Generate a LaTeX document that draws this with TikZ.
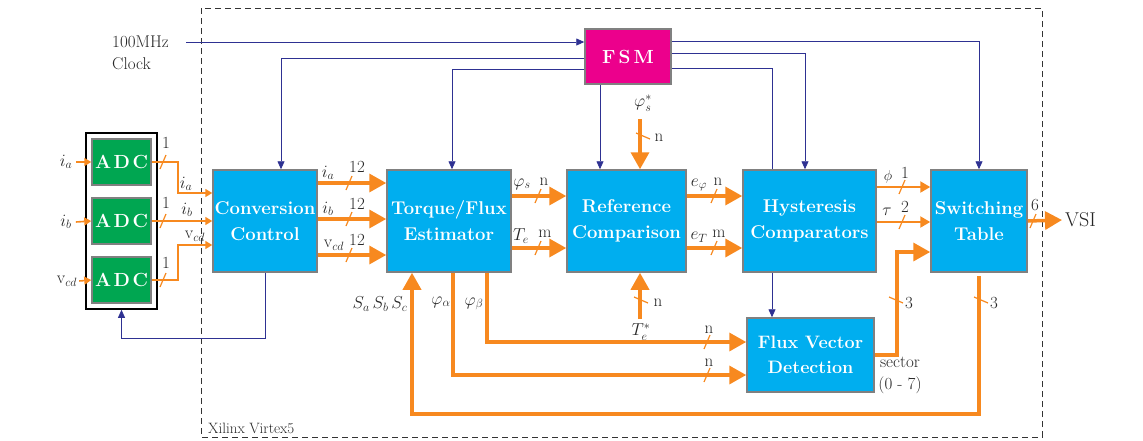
\documentclass[tikz,border=0pt]{standalone}
\usetikzlibrary{arrows.meta,backgrounds}

\definecolor{blkblue}{RGB}{0,174,239}
\definecolor{adcgreen}{RGB}{0,166,81}
\definecolor{fsmpink}{RGB}{236,0,140}
\definecolor{busorange}{RGB}{247,137,31}
\definecolor{ctlnavy}{RGB}{46,49,146}

\tikzset{
  blk/.style={draw=gray, line width=1.5pt, fill=blkblue, text=white, align=center, inner sep=0pt,
    font=\fontsize{18.5}{26}\selectfont\bfseries},
  adc/.style={draw=gray, line width=1.5pt, fill=adcgreen, text=white, inner sep=0pt,
    minimum width=59pt, minimum height=46pt, font=\fontsize{19}{20}\selectfont\bfseries},
  ctl/.style={draw=ctlnavy, line width=0.8pt, -{Triangle[length=8pt,width=7pt]}},
  bus/.style={draw=busorange, line width=3.5pt, -{Triangle[length=17pt,width=18pt]}},
  midbus/.style={draw=busorange, line width=2.2pt, -{Triangle[length=10pt,width=11pt]}},
  wire/.style={draw=busorange, line width=1.6pt, -{Triangle[length=7pt,width=8pt]}},
  bmark/.style={draw=busorange, line width=1.2pt},
  lbl/.style={text=black!85, inner sep=0pt, font=\fontsize{17}{19}\selectfont}
}
\newcommand{\busmark}[1]{\draw[bmark] #1 ++(-3,7) -- ++(6,-14);}
\newcommand{\vbusmark}[1]{\draw[bmark] #1 ++(-7,-3) -- ++(14,6);}

\begin{document}
\begin{tikzpicture}[x=1pt,y=-1pt]
\useasboundingbox (0,0) rectangle (1143,440);
\draw[dash pattern=on 6pt off 4pt, black!80, line width=0.6pt] (201,8) rectangle (1042,437);
\node[lbl, anchor=west, font=\fontsize{15}{17}\selectfont] (xil) at (208,428) {Xilinx Virtex5};

% ADC stage
\node[draw=black, line width=1.6pt, minimum width=71pt, minimum height=176pt, inner sep=0pt] (adcbox) at (121.5,221) {};
\node[adc] (adc1) at (121.5,162) {A\kern2.5ptD\kern2.5ptC};
\node[adc] (adc2) at (121.5,221) {A\kern2.5ptD\kern2.5ptC};
\node[adc] (adc3) at (121.5,280) {A\kern2.5ptD\kern2.5ptC};

% blocks
\node[blk, minimum width=104pt, minimum height=102pt] (conv) at (265,221) {Conversion\\Control};
\node[blk, minimum width=124pt, minimum height=102pt] (tfe) at (449,221) {Torque/Flux\\Estimator};
\node[blk, minimum width=119pt, minimum height=102pt] (refc) at (626.5,221) {Reference\\Comparison};
\node[blk, minimum width=133pt, minimum height=102pt] (hyst) at (809.5,221) {Hysteresis\\Comparators};
\node[blk, minimum width=96pt, minimum height=102pt] (swt) at (979,221) {Switching\\Table};
\node[blk, minimum width=127pt, minimum height=74pt, font=\fontsize{18}{25}\selectfont\bfseries] (fvd) at (810.5,355) {Flux Vector\\Detection};
\node[blk, fill=fsmpink, minimum width=86pt, minimum height=55pt, font=\fontsize{19}{20}\selectfont\bfseries] (fsm) at (628,56.5) {F\kern3ptS\kern3ptM};
\node[lbl, anchor=west, inner sep=3pt, font=\fontsize{20}{22}\selectfont] (vsi) at (1062,220) {VSI};

% inputs to the ADCs
\node[lbl] (ia) at (66,162) {$i_a$};
\node[lbl] (ib) at (66,222) {$i_b$};
\node[lbl] (vcd) at (67,281) {$\mathrm{v}_{cd}$};
\draw[wire] ([xshift=4pt]ia.east) -- (adc1.west);
\draw[wire] ([xshift=4pt]ib.east) -- (adc2.west);
\draw[wire] ([xshift=2pt]vcd.east) -- (adc3.west);

% ADC to conversion
\draw[wire] (adc1.east) -- ++(26,0) |- ([yshift=28pt]conv.west);
\draw[wire] (adc2.east) -- (conv.west);
\draw[wire] (adc3.east) -- ++(26,0) |- ([yshift=-24pt]conv.west);
\busmark{(163,162)} \busmark{(163,221)} \busmark{(163,280)}
\node[lbl] (n1a) at (166,143) {1};
\node[lbl] (n1b) at (166,203) {1};
\node[lbl] (n1c) at (166,263) {1};
\node[lbl] (lia2) at (186,184) {$i_a$};
\node[lbl] (lib2) at (187,210) {$i_b$};
\node[lbl] (lvcd2) at (195,236) {$\mathrm{v}_{cd}$};

% conversion to estimator
\draw[bus] ([yshift=38pt]conv.east) -- ([yshift=38pt]tfe.west);
\draw[bus] ([yshift=2pt]conv.east) -- ([yshift=2pt]tfe.west);
\draw[bus] ([yshift=-34pt]conv.east) -- ([yshift=-34pt]tfe.west);
\busmark{(349,183)} \busmark{(349,219)} \busmark{(349,255)}
\node[lbl] (lia3) at (328,173) {$i_a$};
\node[lbl] (n12a) at (357,167) {12};
\node[lbl] (lib3) at (328,209) {$i_b$};
\node[lbl] (n12b) at (357,204) {12};
\node[lbl] (lvcd3) at (334,245) {$\mathrm{v}_{cd}$};
\node[lbl] (n12c) at (357,240) {12};

% estimator to reference comparison
\draw[bus] ([yshift=25pt]tfe.east) -- ([yshift=25pt]refc.west);
\draw[bus] ([yshift=-27pt]tfe.east) -- ([yshift=-27pt]refc.west);
\busmark{(538,196)} \busmark{(538,248)}
\node[lbl] (lphis) at (522,184) {$\varphi_s$};
\node[lbl] (nn1) at (544,182) {n};
\node[lbl] (lte) at (521,236) {$T_e$};
\node[lbl] (nm1) at (545,234) {m};

% reference comparison to hysteresis
\draw[bus] ([yshift=25pt]refc.east) -- ([yshift=25pt]hyst.west);
\draw[bus] ([yshift=-27pt]refc.east) -- ([yshift=-27pt]hyst.west);
\busmark{(714,196)} \busmark{(714,248)}
\node[lbl] (lephi) at (699,185) {$e_\varphi$};
\node[lbl] (nn2) at (718,182) {n};
\node[lbl] (let) at (699,237) {$e_T$};
\node[lbl] (nm2) at (719,234) {m};

% references
\coordinate (phin) at (640,119);
\draw[bus] (phin) -- (phin |- refc.north);
\vbusmark{(643,136)}
\node[lbl] (lphisr) at (643,103) {$\varphi_s^*$};
\node[lbl] (nn3) at (659,138) {n};
\coordinate (ten) at (640,319);
\draw[bus] (ten) -- (ten |- refc.south);
\vbusmark{(641,300)}
\node[lbl] (lter) at (641,332) {$T_e^*$};
\node[lbl] (nn4) at (658,303) {n};

% hysteresis to switching table
\draw[midbus] ([yshift=34pt]hyst.east) -- ([yshift=34pt]swt.west);
\draw[midbus] ([yshift=-1pt]hyst.east) -- ([yshift=-1pt]swt.west);
\busmark{(902,187)} \busmark{(902,222)}
\node[lbl, font=\fontsize{14}{15}\selectfont] (lphi) at (888,177) {$\phi$};
\node[lbl] (n1d) at (905,173) {1};
\node[lbl] (ltau) at (887,212) {$\tau$};
\node[lbl] (n2) at (905,207) {2};

% switching table out
\draw[bus] (swt.east) -- (vsi.west);
\busmark{(1033,221)}
\node[lbl] (n6) at (1035,205) {6};

% flux vector detection
\draw[bus] ([xshift=38pt]tfe.south) |- ([yshift=13pt]fvd.west);
\draw[bus] ([xshift=4pt]tfe.south) |- ([yshift=-20pt]fvd.west);
\busmark{(707,342)} \busmark{(707,375)}
\node[lbl] (nn5) at (709,330) {n};
\node[lbl] (nn6) at (709,363) {n};
\node[lbl] (lpa) at (441,302) {$\varphi_\alpha$};
\node[lbl] (lpb) at (474,304) {$\varphi_\beta$};
\draw[bus] (fvd.east) -- ++(22,0) |- ([yshift=-31pt]swt.west);
\vbusmark{(896,300)}
\node[lbl] (n3a) at (909,303) {3};
\node[lbl] (lsec) at (900,362) {sector};
\node[lbl] (lsecr) at (900,385) {(0 - 7)};

% switch states back to estimator
\draw[bus] ([yshift=-3pt]swt.south) -- ++(0,138) -| ([xshift=-37pt]tfe.south);
\vbusmark{(981,300)}
\node[lbl] (n3b) at (994,303) {3};
\node[lbl] (lsabc) at (380,304) {$S_a\,S_b\,S_c$};

% FSM control
\node[lbl, anchor=west] (l100) at (112,42) {100MHz};
\node[lbl, anchor=west] (lclk) at (112,64) {Clock};
\coordinate (clk) at (186,42);
\draw[ctl] (clk) -- (clk -| fsm.west);
\draw[ctl] ([yshift=-1.5pt]fsm.west) -| ([xshift=16pt]conv.north);
\draw[ctl] ([yshift=-12.5pt]fsm.west) -| ([xshift=3pt]tfe.north);
\draw[ctl] ([xshift=-28pt]fsm.south) -- ([xshift=-26.5pt]refc.north);
\draw[ctl] ([yshift=15.5pt]fsm.east) -| (swt.north);
\draw[ctl] ([yshift=3.5pt]fsm.east) -| ([xshift=-4.5pt]hyst.north);
\begin{pgfonlayer}{background}
\draw[ctl] ([yshift=-11.5pt]fsm.east) -| ([xshift=-38.5pt]fvd.north);
\end{pgfonlayer}
\draw[ctl] (conv.south) -- ++(0,66) -| (adcbox.south);
\end{tikzpicture}
\end{document}
